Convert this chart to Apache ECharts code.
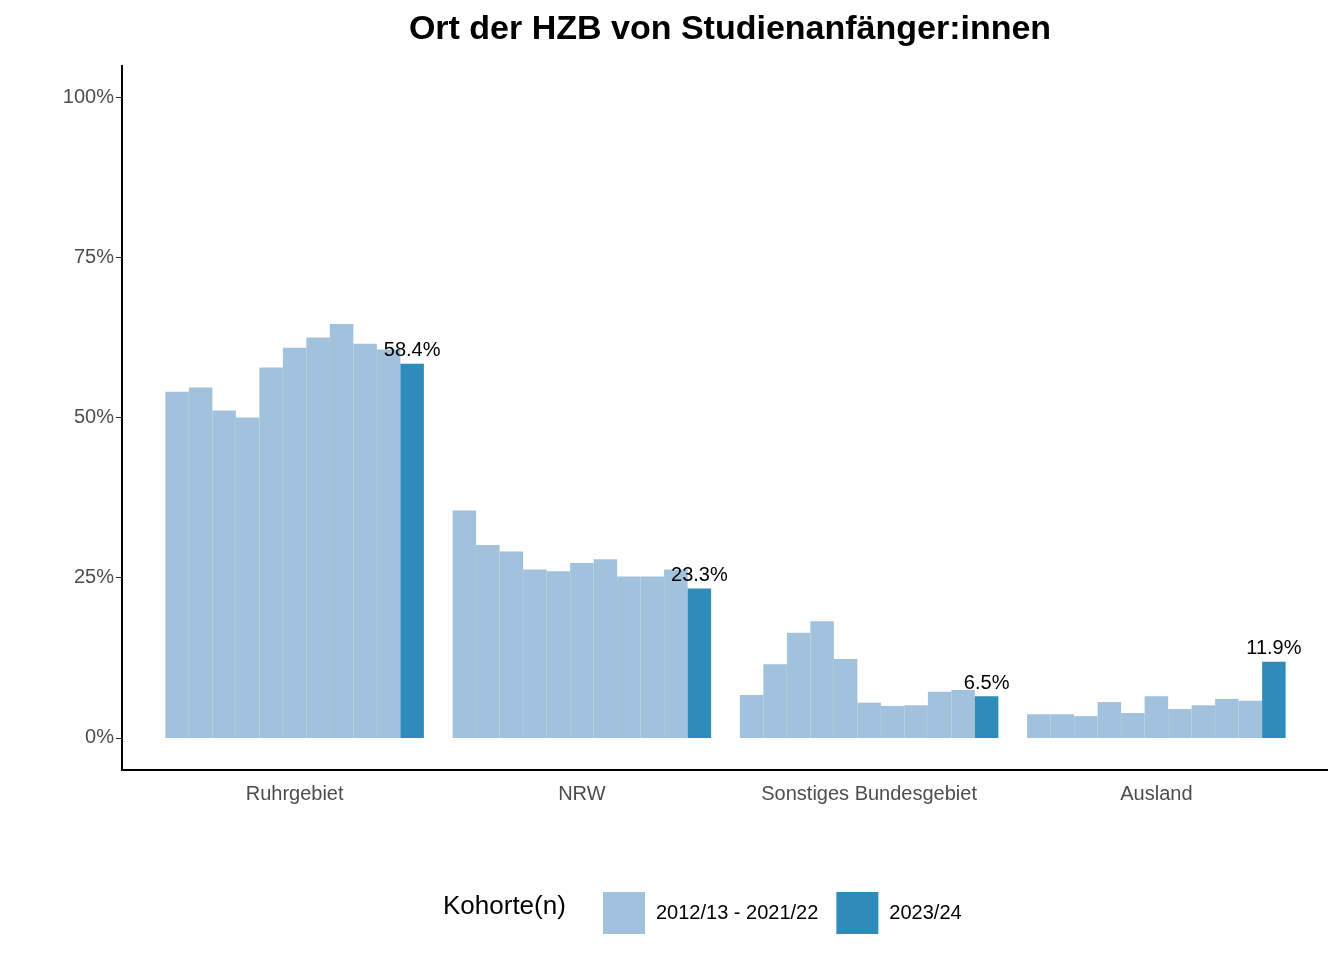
<!DOCTYPE html>
<html><head><meta charset="utf-8">
<script src="https://cdn.jsdelivr.net/npm/echarts@6/dist/echarts.min.js"></script>
<style>html,body{margin:0;background:#fff}#c{width:1344px;height:960px}</style>
</head><body><div id="c"></div>
<script>
var categories = ['Ruhrgebiet', 'NRW', 'Sonstiges Bundesgebiet', 'Ausland'];
// 10 frühere Kohorten je Kategorie (2012/13 - 2021/22)
var pastValues = [
  [54.0, 35.5, 6.7, 3.7],
  [54.7, 30.1, 11.5, 3.7],
  [51.1, 29.1, 16.4, 3.4],
  [50.0, 26.3, 18.2, 5.6],
  [57.8, 26.0, 12.3, 3.9],
  [60.9, 27.3, 5.5, 6.5],
  [62.5, 27.9, 5.0, 4.5],
  [64.6, 25.2, 5.1, 5.1],
  [61.5, 25.2, 7.2, 6.1],
  [60.6, 26.3, 7.5, 5.8]
];
var currentValues = [58.4, 23.3, 6.5, 11.9];
var yTicks = [0, 25, 50, 75, 100];

var chart = echarts.init(document.getElementById('c'));
var font = 'Liberation Sans, Arial, sans-serif';
var series = pastValues.map(function (v) {
  return {
    name: '2012/13 - 2021/22', type: 'bar', data: v,
    barGap: '0%', barCategoryGap: '10%',
    itemStyle: {color: '#a1c1dd', borderWidth: 0}
  };
});
series.push({
  name: '2023/24', type: 'bar', data: currentValues,
  barGap: '0%', barCategoryGap: '10%',
  itemStyle: {color: '#2e8bba', borderWidth: 0},
  label: {show: true, position: 'top', distance: 3, color: '#000', fontSize: 20, fontFamily: font,
    formatter: function (p) { return p.value.toFixed(1) + '%'; }}
});

chart.setOption({
  animation: false,
  title: {
    text: 'Ort der HZB von Studienanfänger:innen', left: 725, top: 8, textAlign: 'center',
    textStyle: {fontSize: 34, fontWeight: 'bold', color: '#000', fontFamily: font}
  },
  graphic: [
    {type: 'text', left: 443, top: 894, style: {text: 'Kohorte(n)', fontSize: 26, fill: '#000', fontFamily: font}},
    // axis lines (the plot panel is wider than the category range)
    {type: 'line', shape: {x1: 122, y1: 65, x2: 122, y2: 771}, style: {stroke: '#000', lineWidth: 2}},
    {type: 'line', shape: {x1: 121, y1: 770, x2: 1328, y2: 770}, style: {stroke: '#000', lineWidth: 2}}
  ],
  legend: {
    data: ['2012/13 - 2021/22', '2023/24'], left: 598, top: 887,
    itemWidth: 42, itemHeight: 42, itemGap: 18, icon: 'rect',
    textStyle: {fontSize: 20, color: '#000', fontFamily: font, padding: [0, 0, 0, 6]}
  },
  grid: {left: 151, right: 44, top: 65, bottom: 190},
  xAxis: {
    type: 'category', data: categories,
    axisLine: {show: false, onZero: false},
    axisTick: {alignWithLabel: true, length: 6, lineStyle: {color: '#333'}},
    axisLabel: {color: '#4d4d4d', fontSize: 20, margin: 14, fontFamily: font}
  },
  yAxis: {
    type: 'value', min: -5, max: 105, offset: 29,
    axisLine: {show: false},
    axisTick: {show: true, length: 6, customValues: yTicks, lineStyle: {color: '#333'}},
    axisLabel: {customValues: yTicks, color: '#4d4d4d', fontSize: 20, fontFamily: font,
      formatter: function (v) { return v + '%'; }},
    splitLine: {show: false}
  },
  series: series
});
</script></body></html>
